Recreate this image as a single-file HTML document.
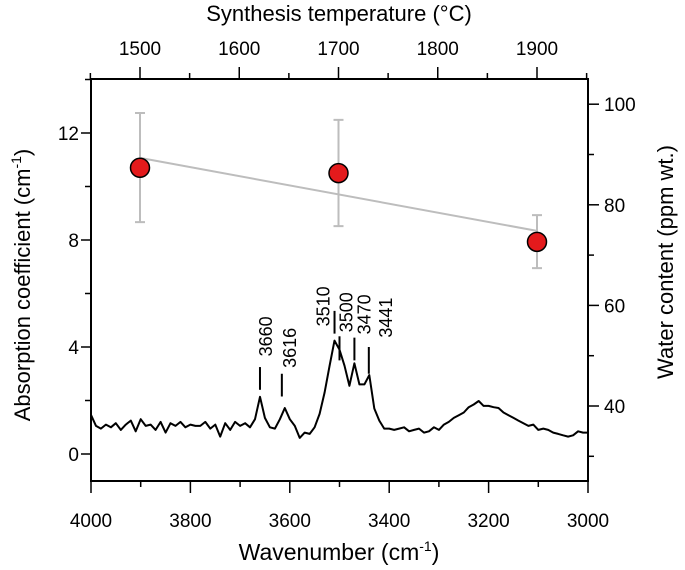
<!DOCTYPE html>
<html><head><meta charset="utf-8"><style>
html,body{margin:0;padding:0;background:#fff}
svg{display:block;font-family:"Liberation Sans",Arial,sans-serif}
</style></head><body>
<svg id="chart" width="685" height="570" viewBox="0 0 685 570" xmlns="http://www.w3.org/2000/svg">
<g id="axes"></g>
<g id="marks"></g>
<text x="339" y="560" font-size="23" text-anchor="middle">Wavenumber (cm<tspan dy="-9" font-size="14">-1</tspan><tspan dy="9">)</tspan></text>
<text x="339" y="21" font-size="22" text-anchor="middle">Synthesis temperature (°C)</text>
<text transform="translate(30,285) rotate(-90)" font-size="22" text-anchor="middle">Absorption coefficient (cm<tspan dy="-9" font-size="14">-1</tspan><tspan dy="9">)</tspan></text>
<text transform="translate(673,262) rotate(-90)" font-size="22" text-anchor="middle">Water content (ppm wt.)</text>
</svg>
<script>
const wavenumbers=[4000,3990,3980,3970,3960,3950,3940,3930,3920,3910,3900,3890,3880,3870,3860,3850,3840,3830,3820,3810,3800,3790,3780,3770,3760,3750,3740,3730,3720,3710,3700,3690,3680,3670,3660,3650,3640,3630,3620,3610,3600,3590,3580,3570,3560,3550,3540,3530,3520,3510,3500,3490,3480,3470,3460,3450,3440,3430,3420,3410,3400,3390,3380,3370,3360,3350,3340,3330,3320,3310,3300,3290,3280,3270,3260,3250,3240,3230,3220,3210,3200,3190,3180,3170,3160,3150,3140,3130,3120,3110,3100,3090,3080,3070,3060,3050,3040,3030,3020,3010,3000];
const absorbance=[1.46,1.05,0.95,1.1,1.0,1.15,0.9,1.1,1.25,0.85,1.3,1.05,1.1,0.9,1.2,0.8,1.15,1.05,1.2,1.0,1.1,1.05,1.05,1.2,0.95,1.1,0.65,1.15,0.9,1.2,1.05,1.15,1.0,1.3,2.14,1.35,1.0,0.95,1.3,1.72,1.3,1.05,0.6,0.8,0.75,1.0,1.5,2.3,3.3,4.24,3.9,3.3,2.55,3.39,2.6,2.6,2.95,1.7,1.25,0.95,0.95,0.9,0.95,1.0,0.85,0.9,0.95,0.8,0.85,1.0,0.9,1.1,1.2,1.35,1.45,1.55,1.75,1.85,1.98,1.8,1.8,1.75,1.72,1.55,1.45,1.35,1.25,1.15,1.05,1.1,0.9,0.95,0.9,0.8,0.75,0.7,0.65,0.7,0.85,0.8,0.8];
const temps=[1500,1700,1900];
const coeffs=[10.7,10.5,7.93];
const errHigh=[12.75,12.49,8.93];
const errLow=[8.67,8.52,6.95];
const fitTemps=[1500,1900];
const fitValues=[11.07,8.34];
const peakWn=[3660,3616,3510,3500,3470,3441];
const peakLabels=["3660","3616","3510","3500","3470","3441"];
const peakLineTop=[3.25,3.0,5.35,4.4,4.35,4.0];
const peakLineBot=[2.4,2.15,4.5,3.5,3.5,3.0];
const labelBase=[3.65,3.22,4.77,4.55,4.47,4.35];
const xTicks=[4000,3800,3600,3400,3200,3000];
const tTicks=[1500,1600,1700,1800,1900];
const yTicks=[0,4,8,12];
const rTicks=[40,60,80,100];

const labelDx=[12,14,-5,13,16,23];
const L=91,R=588,T=79,B=481;
const X=w=>L+(4000-w)*(R-L)/1000;
const Xt=t=>140+(t-1500)*0.9925;
const Y=v=>454-v*26.75;
const Yr=p=>406-(p-40)*5.03;
const NS="http://www.w3.org/2000/svg";
function mk(parent,tag,attrs){const e=document.createElementNS(NS,tag);for(const k in attrs)e.setAttribute(k,attrs[k]);parent.appendChild(e);return e;}
const ax=document.getElementById('axes'),mg=document.getElementById('marks');
let fr=mk(ax,'rect',{x:L,y:T,width:R-L,height:B-T,fill:'none',stroke:'#000','stroke-width':2});


for(let w=4000;w>=3000;w-=100){const maj=w%200===0;let t=mk(ax,'line',{x1:X(w),x2:X(w),y1:B,y2:B+(maj?12:6),stroke:'#000','stroke-width':1.5});

}
xTicks.forEach(w=>{let t=mk(ax,'text',{x:X(w),y:527,'font-size':19,'text-anchor':'middle'});t.textContent=w;

});
for(let t0=1450;t0<=1950;t0+=50){const maj=t0%100===0;let t=mk(ax,'line',{x1:Xt(t0),x2:Xt(t0),y1:T,y2:T-(maj?12:6),stroke:'#000','stroke-width':1.5});

}
tTicks.forEach(v=>{let t=mk(ax,'text',{x:Xt(v),y:55,'font-size':19,'text-anchor':'middle'});t.textContent=v;

});
for(let v=0;v<=14;v+=2){const maj=v%4===0;let t=mk(ax,'line',{x1:L,x2:L-(maj?10:6),y1:Y(v),y2:Y(v),stroke:'#000','stroke-width':1.5});

}
yTicks.forEach(v=>{let t=mk(ax,'text',{x:79,y:Y(v)+7,'font-size':19,'text-anchor':'end'});t.textContent=v;

});
for(let p=30;p<=100;p+=10){const maj=p%20===0;let t=mk(ax,'line',{x1:R,x2:R+(maj?11:6),y1:Yr(p),y2:Yr(p),stroke:'#000','stroke-width':1.5});

}
rTicks.forEach(v=>{let t=mk(ax,'text',{x:604,y:Yr(v)+7,'font-size':19,'text-anchor':'start'});t.textContent=v;

});

let d=wavenumbers.map((w,i)=>(i?'L':'M')+X(w).toFixed(1)+','+Y(absorbance[i]).toFixed(1)).join(' ');
let sp=mk(mg,'path',{d:d,fill:'none',stroke:'#000','stroke-width':2,'stroke-linejoin':'round'});


peakWn.forEach((w,i)=>{let l=mk(mg,'line',{x1:X(w),x2:X(w),y1:Y(peakLineTop[i]),y2:Y(peakLineBot[i]),stroke:'#000','stroke-width':2});


const tx=X(w)+labelDx[i],ty=Y(labelBase[i]);
let t=mk(mg,'text',{transform:`translate(${tx},${ty}) rotate(-90)`,'font-size':18});t.textContent=peakLabels[i];

});
let fl=mk(mg,'line',{x1:Xt(fitTemps[0]),x2:Xt(fitTemps[1]),y1:Y(fitValues[0]),y2:Y(fitValues[1]),stroke:'#bdbdbd','stroke-width':2});


temps.forEach((t0,i)=>{const x=Xt(t0);
let e=mk(mg,'path',{d:`M${x},${Y(errHigh[i])}V${Y(errLow[i])}M${x-5},${Y(errHigh[i])}H${x+5}M${x-5},${Y(errLow[i])}H${x+5}`,stroke:'#bdbdbd','stroke-width':2,fill:'none'});

});
temps.forEach((t0,i)=>{let c=mk(mg,'circle',{cx:Xt(t0),cy:Y(coeffs[i]),r:9.5,fill:'#e31a1c',stroke:'#000','stroke-width':1.5});

});
</script>
</body></html>
